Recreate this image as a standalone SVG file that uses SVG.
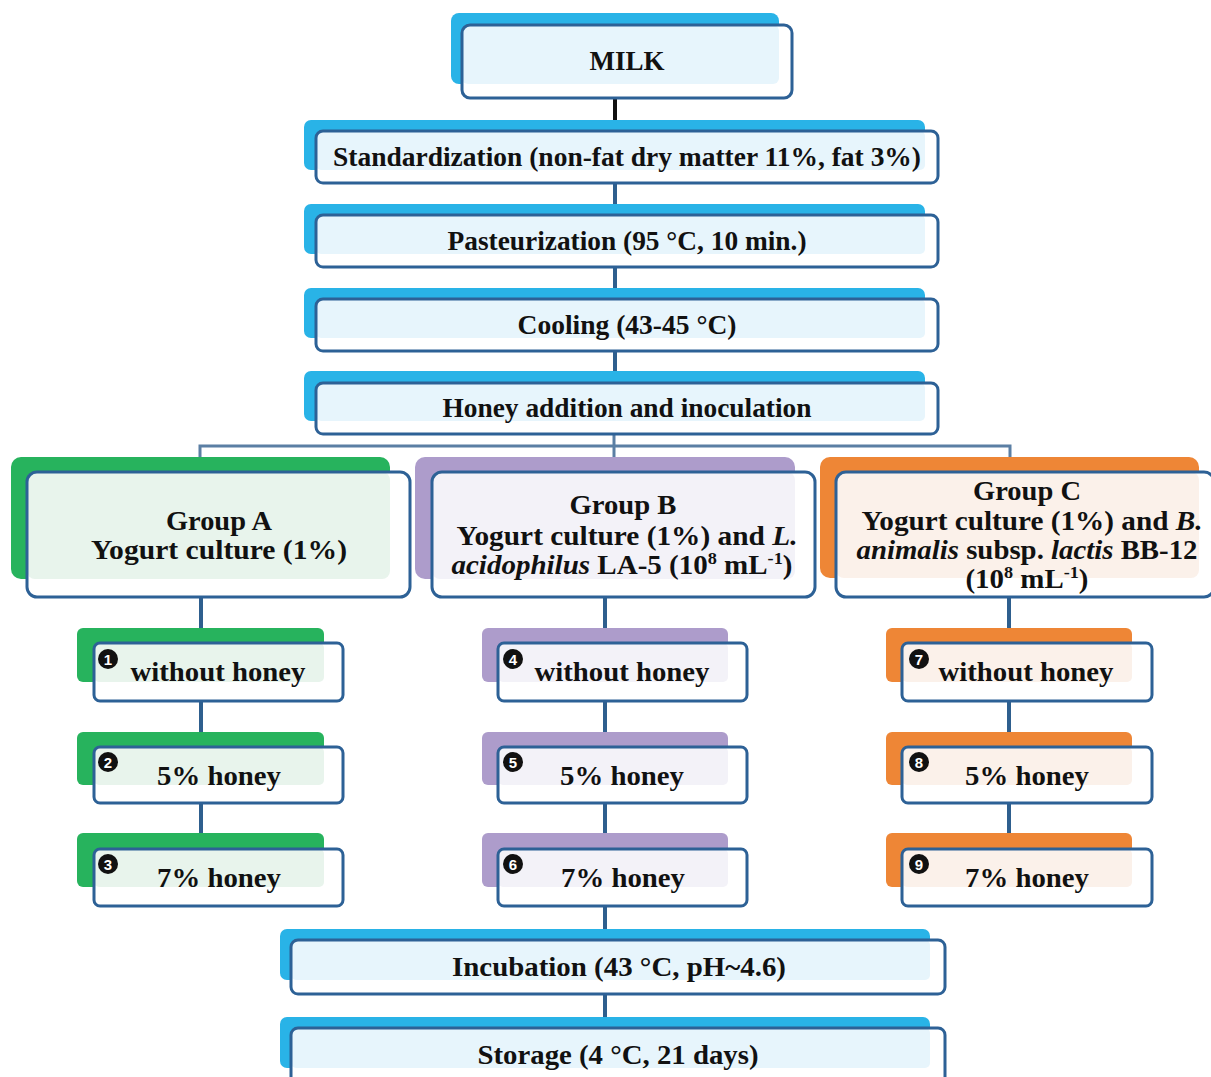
<svg xmlns="http://www.w3.org/2000/svg" width="1211" height="1077" viewBox="0 0 1211 1077">
<style>
.bg{fill:#ffffff}
.bk-blue{fill:#29b3e7}
.bk-green{fill:#27b35d}
.bk-purple{fill:#ad9ccb}
.bk-orange{fill:#ee8636}
.lt-blue{fill:#e7f5fc}
.lt-green{fill:#e8f4ec}
.lt-purple{fill:#f3f2f8}
.lt-orange{fill:#fbf1ea}
.fr-fill{fill:#ffffff}
.fr-stroke{fill:none;stroke:#2d6196;stroke-width:3}
.t{font-family:"Liberation Serif","Times New Roman",serif;font-weight:bold;font-size:27px;fill:#111111;text-anchor:middle}
.sup{font-size:17px}
.dot{fill:#111111}
.num{font-family:"Liberation Sans","DejaVu Sans",sans-serif;font-weight:bold;font-size:15px;fill:#ffffff;text-anchor:middle}
.c{fill:none;stroke:#2e5f8e;stroke-width:4}
.cb{fill:none;stroke:#111111;stroke-width:4}
.cbr{fill:none;stroke:#5b7fa4;stroke-width:3}
</style>
<rect class="bg" x="0" y="0" width="1211" height="1077"/>

<g id="connectors">
<line class="cb" x1="615" y1="90" x2="615" y2="131"/>
<line class="c" x1="615" y1="183" x2="615" y2="215"/>
<line class="c" x1="615" y1="267" x2="615" y2="299"/>
<line class="c" x1="615" y1="351" x2="615" y2="383"/>
<line class="cbr" x1="614" y1="434" x2="614" y2="472"/>
<polyline class="cbr" points="200,472 200,446 1010,446 1010,472"/>
<line class="c" x1="201" y1="597" x2="201" y2="849"/>
<line class="c" x1="605" y1="597" x2="605" y2="940"/>
<line class="c" x1="1009" y1="597" x2="1009" y2="849"/>
<line class="c" x1="605" y1="994" x2="605" y2="1028"/>
</g>

<g id="milk">
<rect class="bk-blue" x="451" y="13" width="328" height="71" rx="8"/>
<rect class="fr-fill" x="462" y="25" width="330" height="73" rx="8"/>
<rect class="lt-blue" x="462" y="25" width="317" height="59" rx="6"/>
<rect class="fr-stroke" x="462" y="25" width="330" height="73" rx="8"/>
<text class="t" x="627" y="70" textLength="75" lengthAdjust="spacingAndGlyphs">MILK</text>
</g>

<g id="standardization">
<rect class="bk-blue" x="304" y="120" width="621" height="50" rx="7"/>
<rect class="fr-fill" x="316" y="131" width="622" height="52" rx="7"/>
<rect class="lt-blue" x="316" y="131" width="609" height="39" rx="5"/>
<rect class="fr-stroke" x="316" y="131" width="622" height="52" rx="7"/>
<text class="t" x="627" y="166" textLength="588" lengthAdjust="spacingAndGlyphs">Standardization (non-fat dry matter 11%, fat 3%)</text>
</g>

<g id="pasteurization">
<rect class="bk-blue" x="304" y="204" width="621" height="50" rx="7"/>
<rect class="fr-fill" x="316" y="215" width="622" height="52" rx="7"/>
<rect class="lt-blue" x="316" y="215" width="609" height="39" rx="5"/>
<rect class="fr-stroke" x="316" y="215" width="622" height="52" rx="7"/>
<text class="t" x="627" y="250" textLength="359" lengthAdjust="spacingAndGlyphs">Pasteurization (95 °C, 10 min.)</text>
</g>

<g id="cooling">
<rect class="bk-blue" x="304" y="288" width="621" height="50" rx="7"/>
<rect class="fr-fill" x="316" y="299" width="622" height="52" rx="7"/>
<rect class="lt-blue" x="316" y="299" width="609" height="39" rx="5"/>
<rect class="fr-stroke" x="316" y="299" width="622" height="52" rx="7"/>
<text class="t" x="627" y="334" textLength="219" lengthAdjust="spacingAndGlyphs">Cooling (43-45 °C)</text>
</g>

<g id="honey-addition">
<rect class="bk-blue" x="304" y="371" width="621" height="50" rx="7"/>
<rect class="fr-fill" x="316" y="383" width="622" height="51" rx="7"/>
<rect class="lt-blue" x="316" y="383" width="609" height="38" rx="5"/>
<rect class="fr-stroke" x="316" y="383" width="622" height="51" rx="7"/>
<text class="t" x="627" y="417" textLength="369" lengthAdjust="spacingAndGlyphs">Honey addition and inoculation</text>
</g>

<g id="group-a">
<rect class="bk-green" x="11" y="457" width="379" height="122" rx="10"/>
<rect class="fr-fill" x="27" y="472" width="383" height="125" rx="10"/>
<rect class="lt-green" x="27" y="472" width="363" height="107" rx="8"/>
<rect class="fr-stroke" x="27" y="472" width="383" height="125" rx="10"/>
<text class="t" x="219" y="530" textLength="106" lengthAdjust="spacingAndGlyphs">Group A</text>
<text class="t" x="219" y="559" textLength="256" lengthAdjust="spacingAndGlyphs">Yogurt  culture (1%)</text>
</g>

<g id="group-b">
<rect class="bk-purple" x="415" y="457" width="380" height="122" rx="10"/>
<rect class="fr-fill" x="432" y="472" width="383" height="125" rx="10"/>
<rect class="lt-purple" x="432" y="472" width="363" height="107" rx="8"/>
<rect class="fr-stroke" x="432" y="472" width="383" height="125" rx="10"/>
<text class="t" x="623" y="514" textLength="107" lengthAdjust="spacingAndGlyphs">Group B</text>
<text class="t" x="627" y="545" textLength="341" lengthAdjust="spacingAndGlyphs">Yogurt  culture (1%) and <tspan font-style="italic">L.</tspan></text>
<text class="t" x="622" y="574" textLength="341" lengthAdjust="spacingAndGlyphs"><tspan font-style="italic">acidophilus</tspan> LA-5 (10<tspan class="sup" dy="-10">8</tspan><tspan dy="10"> mL</tspan><tspan class="sup" dy="-10">-1</tspan><tspan dy="10">)</tspan></text>
</g>

<g id="group-c">
<rect class="bk-orange" x="820" y="457" width="379" height="121" rx="10"/>
<rect class="fr-fill" x="836" y="472" width="378" height="125" rx="10"/>
<rect class="lt-orange" x="836" y="472" width="363" height="106" rx="8"/>
<rect class="fr-stroke" x="836" y="472" width="378" height="125" rx="10"/>
<text class="t" x="1027" y="500" textLength="108" lengthAdjust="spacingAndGlyphs">Group C</text>
<text class="t" x="1032" y="530" textLength="341" lengthAdjust="spacingAndGlyphs">Yogurt  culture (1%) and <tspan font-style="italic">B.</tspan></text>
<text class="t" x="1027" y="559" textLength="341" lengthAdjust="spacingAndGlyphs"><tspan font-style="italic">animalis</tspan> subsp. <tspan font-style="italic">lactis</tspan> BB-12</text>
<text class="t" x="1027" y="588" textLength="123" lengthAdjust="spacingAndGlyphs">(10<tspan class="sup" dy="-10">8</tspan><tspan dy="10"> mL</tspan><tspan class="sup" dy="-10">-1</tspan><tspan dy="10">)</tspan></text>
</g>

<g id="a1">
<rect class="bk-green" x="77" y="628" width="247" height="54" rx="6"/>
<rect class="fr-fill" x="94" y="643" width="249" height="58" rx="6"/>
<rect class="lt-green" x="94" y="643" width="230" height="39" rx="5"/>
<rect class="fr-stroke" x="94" y="643" width="249" height="58" rx="6"/>
<circle class="dot" cx="108" cy="659" r="10"/><text class="num" x="108" y="664.5">1</text>
<text class="t" x="218" y="681" textLength="175" lengthAdjust="spacingAndGlyphs">without honey</text>
</g>
<g id="a2">
<rect class="bk-green" x="77" y="732" width="247" height="53" rx="6"/>
<rect class="fr-fill" x="94" y="747" width="249" height="56" rx="6"/>
<rect class="lt-green" x="94" y="747" width="230" height="38" rx="5"/>
<rect class="fr-stroke" x="94" y="747" width="249" height="56" rx="6"/>
<circle class="dot" cx="108" cy="762" r="10"/><text class="num" x="108" y="767.5">2</text>
<text class="t" x="219" y="785" textLength="124" lengthAdjust="spacingAndGlyphs">5% honey</text>
</g>
<g id="a3">
<rect class="bk-green" x="77" y="833" width="247" height="54" rx="6"/>
<rect class="fr-fill" x="94" y="849" width="249" height="57" rx="6"/>
<rect class="lt-green" x="94" y="849" width="230" height="38" rx="5"/>
<rect class="fr-stroke" x="94" y="849" width="249" height="57" rx="6"/>
<circle class="dot" cx="108" cy="864" r="10"/><text class="num" x="108" y="869.5">3</text>
<text class="t" x="219" y="887" textLength="124" lengthAdjust="spacingAndGlyphs">7% honey</text>
</g>

<g id="b1">
<rect class="bk-purple" x="482" y="628" width="246" height="54" rx="6"/>
<rect class="fr-fill" x="498" y="643" width="249" height="58" rx="6"/>
<rect class="lt-purple" x="498" y="643" width="230" height="39" rx="5"/>
<rect class="fr-stroke" x="498" y="643" width="249" height="58" rx="6"/>
<circle class="dot" cx="513" cy="659" r="10"/><text class="num" x="513" y="664.5">4</text>
<text class="t" x="622" y="681" textLength="175" lengthAdjust="spacingAndGlyphs">without honey</text>
</g>
<g id="b2">
<rect class="bk-purple" x="482" y="732" width="246" height="53" rx="6"/>
<rect class="fr-fill" x="498" y="747" width="249" height="56" rx="6"/>
<rect class="lt-purple" x="498" y="747" width="230" height="38" rx="5"/>
<rect class="fr-stroke" x="498" y="747" width="249" height="56" rx="6"/>
<circle class="dot" cx="513" cy="762" r="10"/><text class="num" x="513" y="767.5">5</text>
<text class="t" x="622" y="785" textLength="124" lengthAdjust="spacingAndGlyphs">5% honey</text>
</g>
<g id="b3">
<rect class="bk-purple" x="482" y="833" width="246" height="54" rx="6"/>
<rect class="fr-fill" x="498" y="849" width="249" height="57" rx="6"/>
<rect class="lt-purple" x="498" y="849" width="230" height="38" rx="5"/>
<rect class="fr-stroke" x="498" y="849" width="249" height="57" rx="6"/>
<circle class="dot" cx="513" cy="864" r="10"/><text class="num" x="513" y="869.5">6</text>
<text class="t" x="623" y="887" textLength="124" lengthAdjust="spacingAndGlyphs">7% honey</text>
</g>

<g id="c1">
<rect class="bk-orange" x="886" y="628" width="246" height="54" rx="6"/>
<rect class="fr-fill" x="902" y="643" width="250" height="58" rx="6"/>
<rect class="lt-orange" x="902" y="643" width="230" height="39" rx="5"/>
<rect class="fr-stroke" x="902" y="643" width="250" height="58" rx="6"/>
<circle class="dot" cx="919" cy="659" r="10"/><text class="num" x="919" y="664.5">7</text>
<text class="t" x="1026" y="681" textLength="175" lengthAdjust="spacingAndGlyphs">without honey</text>
</g>
<g id="c2">
<rect class="bk-orange" x="886" y="732" width="246" height="53" rx="6"/>
<rect class="fr-fill" x="902" y="747" width="250" height="56" rx="6"/>
<rect class="lt-orange" x="902" y="747" width="230" height="38" rx="5"/>
<rect class="fr-stroke" x="902" y="747" width="250" height="56" rx="6"/>
<circle class="dot" cx="919" cy="762" r="10"/><text class="num" x="919" y="767.5">8</text>
<text class="t" x="1027" y="785" textLength="124" lengthAdjust="spacingAndGlyphs">5% honey</text>
</g>
<g id="c3">
<rect class="bk-orange" x="886" y="833" width="246" height="54" rx="6"/>
<rect class="fr-fill" x="902" y="849" width="250" height="57" rx="6"/>
<rect class="lt-orange" x="902" y="849" width="230" height="38" rx="5"/>
<rect class="fr-stroke" x="902" y="849" width="250" height="57" rx="6"/>
<circle class="dot" cx="919" cy="864" r="10"/><text class="num" x="919" y="869.5">9</text>
<text class="t" x="1027" y="887" textLength="124" lengthAdjust="spacingAndGlyphs">7% honey</text>
</g>

<g id="incubation">
<rect class="bk-blue" x="280" y="929" width="650" height="51" rx="7"/>
<rect class="fr-fill" x="291" y="940" width="654" height="54" rx="7"/>
<rect class="lt-blue" x="291" y="940" width="639" height="40" rx="5"/>
<rect class="fr-stroke" x="291" y="940" width="654" height="54" rx="7"/>
<text class="t" x="619" y="976" textLength="334" lengthAdjust="spacingAndGlyphs">Incubation (43 °C, pH~4.6)</text>
</g>

<g id="storage">
<rect class="bk-blue" x="280" y="1017" width="650" height="51" rx="7"/>
<rect class="fr-fill" x="291" y="1028" width="654" height="60" rx="7"/>
<rect class="lt-blue" x="291" y="1028" width="639" height="40" rx="5"/>
<rect class="fr-stroke" x="291" y="1028" width="654" height="60" rx="7"/>
<text class="t" x="618" y="1064" textLength="281" lengthAdjust="spacingAndGlyphs">Storage (4 °C, 21 days)</text>
</g>
</svg>
